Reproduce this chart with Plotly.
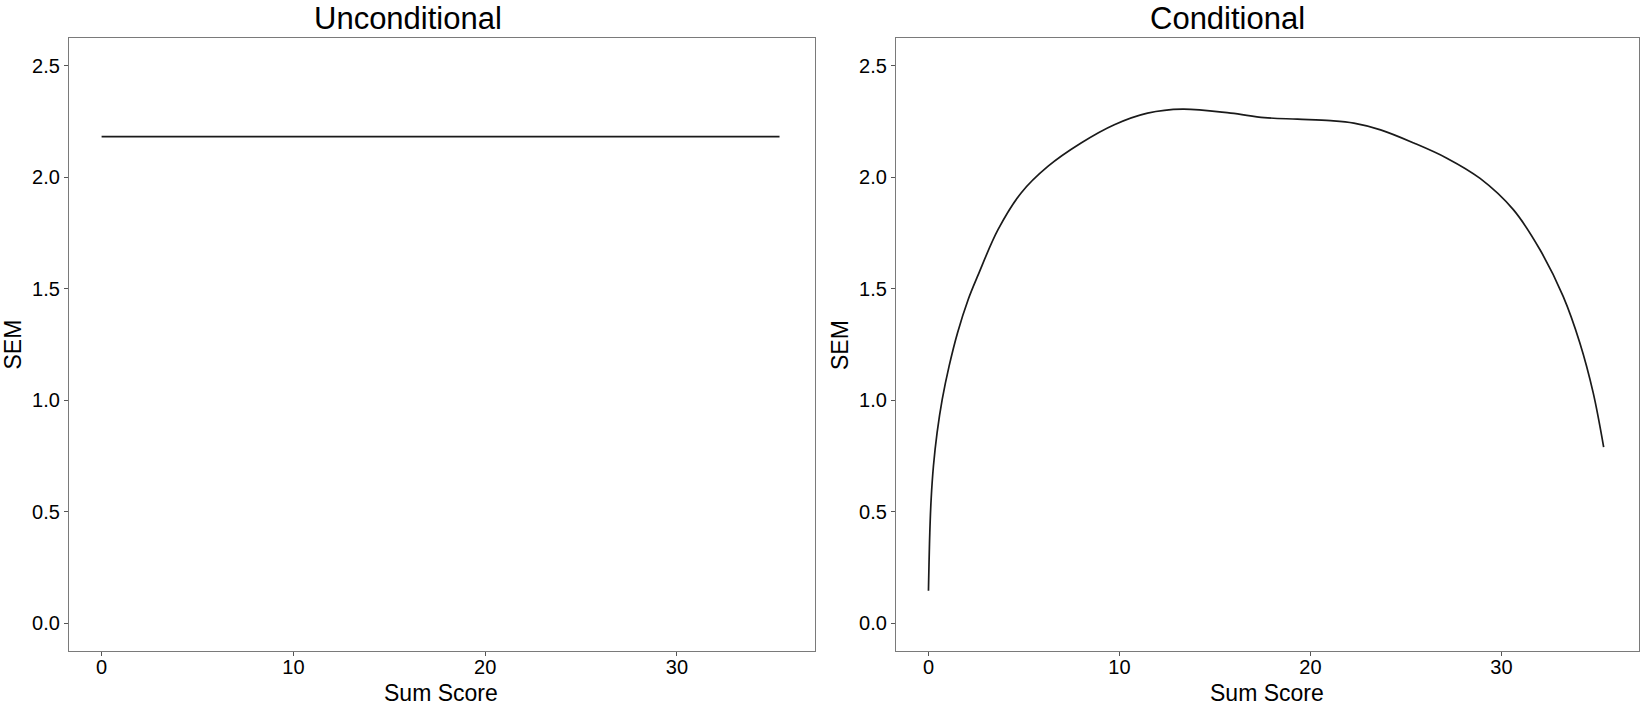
import plotly.graph_objects as go

# ---- data ----
uncond_x = [0, 35.35]
uncond_sem = [2.183, 2.183]

cond_x = [0, 0.07, 0.14, 0.26, 0.45, 0.72, 1.08, 1.52, 2.08, 2.59, 3.64, 4.85, 6.25,
          7.99, 9.73, 11.47, 13.3, 15.83, 17.58, 19.32, 21.05, 22.27, 23.67, 25.41,
          27.14, 28.88, 30.62, 32.01, 33.23, 34.1, 34.8, 35.35]
cond_sem = [0.145, 0.406, 0.556, 0.705, 0.854, 1.004, 1.153, 1.302, 1.452, 1.560, 1.765,
            1.930, 2.049, 2.154, 2.236, 2.288, 2.306, 2.288, 2.268, 2.261, 2.254, 2.243,
            2.213, 2.154, 2.086, 1.995, 1.855, 1.676, 1.466, 1.258, 1.034, 0.790]

titles = ["Unconditional", "Conditional"]
x_title = "Sum Score"
y_title = "SEM"
x_ticks = [0, 10, 20, 30]
y_ticks = [0.0, 0.5, 1.0, 1.5, 2.0, 2.5]

W, H = 1642, 707
FONT = "Liberation Sans, Arial, Helvetica, sans-serif"

fig = go.Figure()
fig.add_trace(go.Scatter(x=uncond_x, y=uncond_sem, mode="lines",
                         line=dict(color="#1a1a1a", width=1.7),
                         xaxis="x", yaxis="y", showlegend=False))
fig.add_trace(go.Scatter(x=cond_x, y=cond_sem, mode="lines",
                         line=dict(color="#1a1a1a", width=1.7, shape="spline", smoothing=1.0),
                         xaxis="x2", yaxis="y2", showlegend=False))

axis_common = dict(showline=True, mirror=True, linecolor="#7a7a7a", linewidth=1.2,
                   ticks="outside", ticklen=4, tickwidth=1, tickcolor="#555555",
                   showgrid=False, zeroline=False,
                   tickfont=dict(family=FONT, size=20, color="black"))

xr = [-1.7, 37.2]
yr = [-0.125, 2.625]

fig.update_layout(
    width=W, height=H, autosize=False,
    margin=dict(l=0, r=0, t=0, b=0),
    paper_bgcolor="white", plot_bgcolor="white",
    xaxis=dict(domain=[69 / W, 815 / W], range=xr, tickvals=x_ticks, anchor="y",
               ticklabelstandoff=-6, **axis_common),
    yaxis=dict(domain=[1 - 651 / H, 1 - 38 / H], range=yr, tickvals=y_ticks,
               tickformat=".1f", anchor="x", **axis_common),
    xaxis2=dict(domain=[896 / W, 1639 / W], range=xr, tickvals=x_ticks, anchor="y2",
                ticklabelstandoff=-6, **axis_common),
    yaxis2=dict(domain=[1 - 651 / H, 1 - 38 / H], range=yr, tickvals=y_ticks,
                tickformat=".1f", anchor="x2", **axis_common),
)

ann = []
for cx, t in zip([408, 1227], titles):
    ann.append(dict(text=t, x=cx / W, y=1, xref="paper", yref="paper",
                    xanchor="center", yanchor="top", showarrow=False, borderpad=0,
                    font=dict(family=FONT, size=31, color="black")))
for cx in [441, 1267]:
    ann.append(dict(text=x_title, x=cx / W, y=0, xref="paper", yref="paper",
                    xanchor="center", yanchor="bottom", showarrow=False, borderpad=0,
                    font=dict(family=FONT, size=23, color="black")))
for cx in [12.5, 840]:
    ann.append(dict(text=y_title, x=cx / W, y=1 - 345 / H, xref="paper", yref="paper",
                    xanchor="center", yanchor="middle", showarrow=False, textangle=-90,
                    font=dict(family=FONT, size=23, color="black")))
fig.update_layout(annotations=ann)

fig.write_html("out.html")
